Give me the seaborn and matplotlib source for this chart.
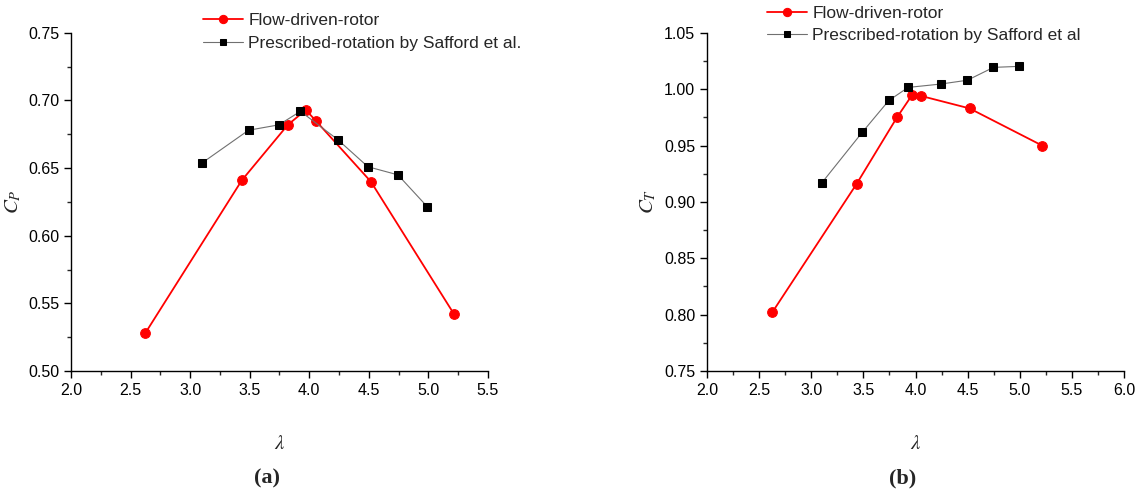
import matplotlib
matplotlib.use("Agg")
import matplotlib.pyplot as plt
import seaborn as sns
import pandas as pd
from matplotlib.ticker import MultipleLocator

# ---- data ----
flow_tsr_cp = [2.624, 3.434, 3.820, 3.971, 4.055, 4.517, 5.215]
flow_cp = [0.528, 0.641, 0.682, 0.693, 0.685, 0.640, 0.542]
presc_tsr_cp = [3.103, 3.490, 3.745, 3.926, 4.240, 4.492, 4.744, 4.990]
presc_cp = [0.654, 0.678, 0.682, 0.692, 0.671, 0.651, 0.645, 0.6215]

flow_tsr_ct = [2.626, 3.435, 3.822, 3.968, 4.055, 4.518, 5.215]
flow_ct = [0.802, 0.916, 0.975, 0.995, 0.994, 0.983, 0.950]
presc_tsr_ct = [3.102, 3.491, 3.744, 3.929, 4.242, 4.498, 4.748, 4.997]
presc_ct = [0.917, 0.962, 0.990, 1.0016, 1.0046, 1.008, 1.0194, 1.0203]

label_flow = "Flow-driven-rotor"
label_presc_a = "Prescribed-rotation by Safford et al."
label_presc_b = "Prescribed-rotation by Safford et al"

sns.set_style("ticks")
plt.rcParams['font.family'] = ['Liberation Sans', 'DejaVu Sans']
plt.rcParams['mathtext.fontset'] = 'stix'

fig = plt.figure(figsize=(11.38, 4.91), dpi=100)
ax1 = fig.add_axes([0.0624, 0.2446, 0.3664, 0.6884])
ax2 = fig.add_axes([0.6213, 0.2446, 0.3664, 0.6884])


def draw(ax, fx, fy, px, py, lab_p):
    dfp = pd.DataFrame({"x": px, "y": py})
    dff = pd.DataFrame({"x": fx, "y": fy})
    sns.lineplot(data=dff, x="x", y="y", ax=ax, sort=False, color="#ff0000",
                 lw=1.3, marker="o", markersize=7, markeredgecolor="#ff0000",
                 label=label_flow, zorder=3)
    sns.lineplot(data=dfp, x="x", y="y", ax=ax, sort=False, color="#707070",
                 lw=0.8, marker="s", markersize=5.5, markerfacecolor="black",
                 markeredgecolor="black", label=lab_p, zorder=4)
    for s in ["top", "right"]:
        ax.spines[s].set_visible(False)
    for s in ["left", "bottom"]:
        ax.spines[s].set_linewidth(1.0)
        ax.spines[s].set_color("black")
    ax.tick_params(which="major", direction="out", length=5, width=1,
                   labelsize=11.5, colors="black")
    ax.tick_params(which="minor", direction="out", length=3, width=1)


draw(ax1, flow_tsr_cp, flow_cp, presc_tsr_cp, presc_cp, label_presc_a)
draw(ax2, flow_tsr_ct, flow_ct, presc_tsr_ct, presc_ct, label_presc_b)

ax1.set_xlim(2.0, 5.5)
ax1.set_ylim(0.50, 0.75)
ax1.xaxis.set_major_locator(MultipleLocator(0.5))
ax1.xaxis.set_minor_locator(MultipleLocator(0.25))
ax1.yaxis.set_major_locator(MultipleLocator(0.05))
ax1.yaxis.set_minor_locator(MultipleLocator(0.025))
ax1.xaxis.set_major_formatter(plt.FormatStrFormatter('%.1f'))
ax1.yaxis.set_major_formatter(plt.FormatStrFormatter('%.2f'))

ax2.set_xlim(2.0, 6.0)
ax2.set_ylim(0.75, 1.05)
ax2.xaxis.set_major_locator(MultipleLocator(0.5))
ax2.xaxis.set_minor_locator(MultipleLocator(0.25))
ax2.yaxis.set_major_locator(MultipleLocator(0.05))
ax2.yaxis.set_minor_locator(MultipleLocator(0.025))
ax2.xaxis.set_major_formatter(plt.FormatStrFormatter('%.1f'))
ax2.yaxis.set_major_formatter(plt.FormatStrFormatter('%.2f'))

ax1.set_xlabel(r"$\lambda$", fontsize=15, labelpad=26)
ax1.set_ylabel(r"$C_P$", fontsize=15, labelpad=4)
ax2.set_xlabel(r"$\lambda$", fontsize=15, labelpad=26)
ax2.set_ylabel(r"$C_T$", fontsize=15, labelpad=4)

leg_kw = dict(frameon=False, fontsize=12.5, handlelength=2.3, handletextpad=0.3,
              borderaxespad=0, borderpad=0, labelspacing=0.42, markerscale=0.85)
ax1.legend(loc="upper left", bbox_to_anchor=(0.1784, 0.9735),
           bbox_transform=fig.transFigure, **leg_kw)
ax2.legend(loc="upper left", bbox_to_anchor=(0.674, 0.988),
           bbox_transform=fig.transFigure, **leg_kw)

fig.text(0.2345, 0.006, "(a)", fontsize=16, fontweight="bold", family="Liberation Serif",
         ha="center", va="bottom")
fig.text(0.7935, 0.006, "(b)", fontsize=16, fontweight="bold", family="Liberation Serif",
         ha="center", va="bottom")

fig.savefig("out.png", dpi=100)
